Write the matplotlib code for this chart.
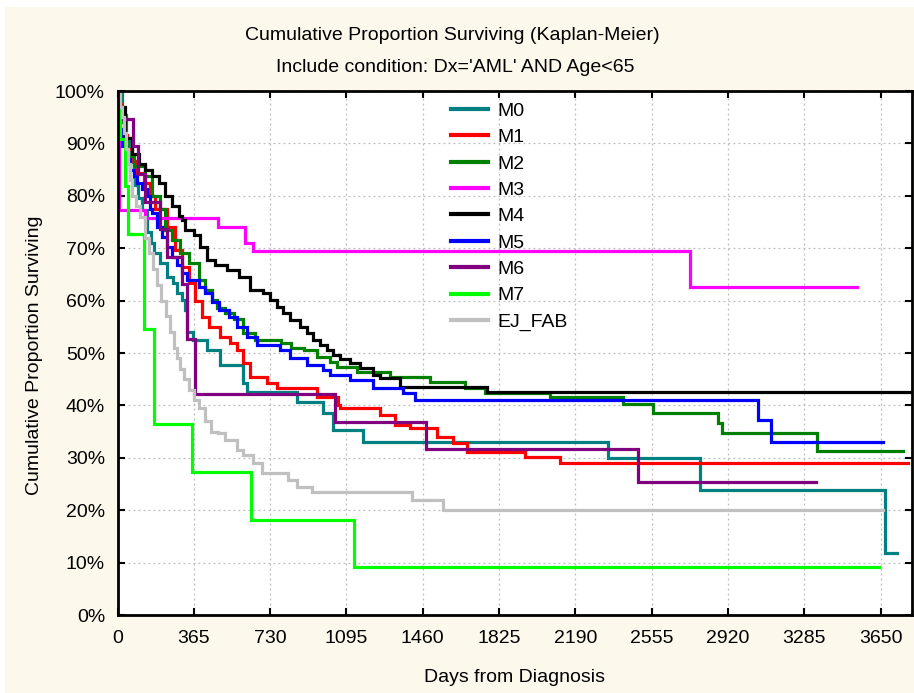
import matplotlib
matplotlib.use("Agg")
import matplotlib.pyplot as plt
from matplotlib.patches import Rectangle

plt.rcParams['font.family'] = ['Liberation Sans', 'DejaVu Sans']

# Kaplan-Meier step estimates per FAB subtype: event day -> survival (%) after it,
# plus the last follow-up day where the curve is cut off
m0_days = [0, 20, 40, 60, 80, 100, 117, 140, 160, 175, 203, 237, 266, 285, 309, 323, 333, 361,
           428, 490, 600, 620, 859, 983, 1031, 1175, 2347, 2787, 3672]
m0_surv = [100, 95.5, 91, 86.5, 82, 79.5, 77.3, 73, 71, 69, 67.2, 64.5, 63.4, 61.5, 60.1, 58.2, 54.0, 52.5,
           50.6, 47.7, 44.3, 42.6, 40.6, 38.5, 35.3, 33.0, 30.0, 23.9, 11.8]
m0_end = 3730

m1_days = [0, 8, 18, 31, 45, 69, 93, 127, 156, 179, 237, 275, 309, 342, 371, 404, 438, 490, 538,
           572, 600, 634, 715, 763, 955, 1055, 1065, 1256, 1328, 1400, 1529, 1605, 1672, 1950, 2117]
m1_surv = [100, 97.5, 95, 91.6, 89, 86.6, 84.4, 82.4, 80, 77.5, 74, 69.7, 66.4, 63.4, 60, 56.9, 55, 53, 51.9,
           50.6, 48.1, 45.4, 44.3, 43.3, 41.6, 40.1, 39.5, 38.2, 36.3, 35.7, 34.0, 32.8, 31.1, 30.2, 29.0]
m1_end = 3782

m2_days = [0, 10, 20, 30, 45, 79, 132, 165, 203, 227, 261, 299, 342, 390, 419, 452, 476, 514, 557,
           600, 660, 780, 828, 890, 955, 1017, 1050, 1146, 1304, 1495, 1663, 1758, 2069, 2418, 2562,
           2873, 2890, 3347]
m2_surv = [100, 97, 94, 91, 87.6, 85.7, 83.8, 80, 77.5, 73.5, 71.6, 69.1, 67.2, 63.9, 62, 60.1, 58.6, 57.6, 56.5,
           53.8, 52.5, 51.9, 51.0, 50.6, 49.2, 48.3, 47.3, 46.4, 45.4, 44.5, 43.3, 42.4, 41.6, 40.3, 38.5,
           36.6, 34.7, 31.3]
m2_end = 3758

m3_days = [0, 8, 132, 481, 610, 648, 2739]
m3_surv = [100, 77.3, 75.8, 74.0, 71.0, 69.5, 62.6]
m3_end = 3538

m4_days = [0, 12, 36, 69, 103, 132, 165, 199, 227, 261, 294, 309, 323, 366, 395, 428, 467, 524,
           581, 634, 696, 730, 763, 792, 825, 873, 907, 935, 969, 1002, 1031, 1065, 1112, 1160, 1222,
           1256, 1352, 1768]
m4_surv = [100, 97, 91, 88, 86, 85, 83.8, 82.4, 80, 78, 76.1, 75.4, 73.5, 72.5, 70.2, 67.7, 66.8, 65.8,
           64.5, 62, 61.5, 60.1, 58.8, 57.6, 56.3, 55, 53.8, 52.5, 51.5, 50.6, 49.6, 48.8, 48.1, 47.1, 45.8,
           45.2, 43.5, 42.6]
m4_end = 3800

m5_days = [0, 7, 22, 40, 60, 79, 93, 117, 141, 156, 165, 189, 213, 237, 261, 285, 309, 333, 390,
           419, 452, 486, 534, 572, 620, 667, 777, 825, 907, 983, 1017, 1112, 1222, 1366, 1423, 3064, 3127]
m5_surv = [100, 92.7, 89.5, 87, 85, 83.8, 82.4, 81.3, 80, 77.5, 76.7, 74, 72.1, 70.2, 68.3, 66.8, 65.3, 63.9, 62.6,
           61.5, 59.7, 58.2, 56.9, 55, 53, 51.5, 50.6, 49, 47.7, 46.8, 45.8, 44.8, 43.3, 42.4, 41.0, 37.2, 33.0]
m5_end = 3663

m6_days = [0, 8, 74, 98, 132, 203, 237, 309, 333, 371, 1041, 1476, 2491]
m6_surv = [100, 94.7, 89.5, 84.2, 78.9, 73.7, 68.4, 63.2, 52.6, 42.1, 36.8, 31.6, 25.3]
m6_end = 3343

m7_days = [0, 12, 36, 50, 127, 175, 356, 640, 1130]
m7_surv = [100, 90.9, 81.8, 72.7, 54.5, 36.4, 27.3, 18.2, 9.1]
m7_end = 3640

ej_days = [0, 10, 20, 30, 40, 50, 60, 70, 90, 110, 130, 150, 170, 190, 210, 230, 250, 270, 285, 300,
           320, 340, 365, 390, 420, 445, 480, 515, 570, 600, 648, 690, 815, 860, 930, 1410, 1555]
ej_surv = [100, 97, 95, 92, 89, 86, 83, 80, 78, 76, 72, 69, 66, 63, 60, 57, 54, 51, 49, 47,
           45, 43, 41, 39.5, 37, 35, 34.7, 33.4, 31.5, 30.5, 29, 27.1, 25.8, 24.4, 23.5, 22.0, 20.0]
ej_end = 3660

groups = ["M0", "M1", "M2", "M3", "M4", "M5", "M6", "M7", "EJ_FAB"]
colors = ["#008080", "#FF0000", "#008000", "#FF00FF", "#000000",
          "#0000FF", "#800080", "#00FF00", "#C0C0C0"]
curves = [(m0_days, m0_surv, m0_end), (m1_days, m1_surv, m1_end), (m2_days, m2_surv, m2_end),
          (m3_days, m3_surv, m3_end), (m4_days, m4_surv, m4_end), (m5_days, m5_surv, m5_end),
          (m6_days, m6_surv, m6_end), (m7_days, m7_surv, m7_end), (ej_days, ej_surv, ej_end)]

xticks = [0, 365, 730, 1095, 1460, 1825, 2190, 2555, 2920, 3285, 3650]
yticks = [0, 10, 20, 30, 40, 50, 60, 70, 80, 90, 100]

bg = "#FDF8EC"
fig = plt.figure(figsize=(9.14, 6.93), dpi=100, facecolor="white")
fig.patches.append(Rectangle((5 / 914, 0), 1, 1 - 7 / 693, transform=fig.transFigure,
                             facecolor=bg, edgecolor="none", zorder=-10))

ax = fig.add_axes([117.5 / 914, 1 - 615 / 693, 794.5 / 914, 524 / 693])
ax.set_facecolor("white")

for name, col, (d, s, end) in zip(groups, colors, curves):
    ax.plot(list(d) + [end], list(s) + [s[-1]], drawstyle="steps-post",
            color=col, lw=2.3, label=name, solid_joinstyle="miter")

ax.set_xlim(0, 3800)
ax.set_ylim(0, 100)
ax.set_xticks(xticks)
ax.set_yticks(yticks)
ax.set_yticklabels([f"{v}%" for v in yticks])
ax.tick_params(direction="in", length=5, width=1.5, labelsize=14,
               top=True, right=True, pad=9, colors="black")
ax.tick_params(axis="x", pad=11)
for sp in ax.spines.values():
    sp.set_linewidth(2)
ax.grid(True, color="#BBBBBB", linestyle=(0, (1.5, 2.5)), linewidth=0.9)
ax.set_axisbelow(True)

leg = ax.legend(loc="upper left", bbox_to_anchor=(0.398, 1.012), frameon=False,
                fontsize=14, handlelength=1.9, handletextpad=0.45, labelspacing=0.45)
for h in leg.get_lines():
    h.set_linewidth(3)

fig.text(452 / 914, 1 - 35 / 693, "Cumulative Proportion Surviving (Kaplan-Meier)",
         ha="center", va="center", fontsize=14)
fig.text(455 / 914, 1 - 67 / 693, "Include condition: Dx='AML' AND Age<65",
         ha="center", va="center", fontsize=14)
fig.text(514 / 914, 1 - 677 / 693, "Days from Diagnosis", ha="center", va="center", fontsize=14)
fig.text(35 / 914, 1 - 355 / 693, "Cumulative Proportion Surviving", ha="center", va="center",
         rotation=90, fontsize=14)

fig.savefig("out.png", dpi=100, facecolor=fig.get_facecolor())
